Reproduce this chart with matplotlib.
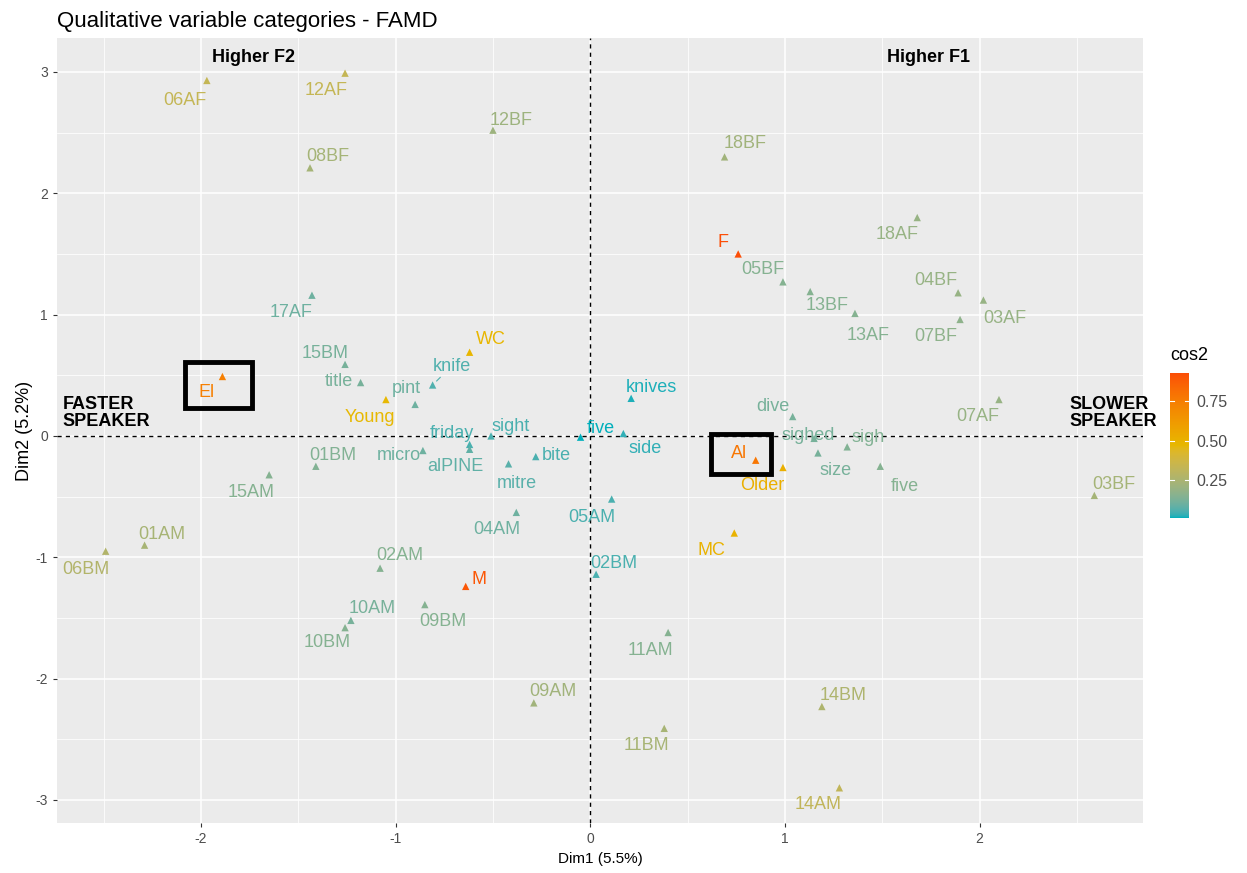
import numpy as np
import matplotlib
matplotlib.use("Agg")
import matplotlib.pyplot as plt
from matplotlib.colors import ListedColormap, Normalize, to_rgb
from matplotlib.patches import Rectangle

plt.rcParams['font.family'] = ['Liberation Sans', 'DejaVu Sans']
plt.rcParams['axes.unicode_minus'] = False

# category coordinates on Dim1 / Dim2 and their cos2
labels = ['06AF', '12AF', '12BF', '08BF', '18BF', '18AF', 'F', '05BF', '13BF', '13AF',
          '04BF', '03AF', '07BF', '17AF', '15BM', 'title', 'WC', 'knife', 'pint', 'Young',
          'El', 'knives', 'five', 'side', 'sight', 'friday', 'alPINE', 'micro', 'bite', 'mitre',
          '01BM', '15AM', '04AM', '05AM', '02BM', '02AM', 'M', '10AM', '10BM', '09BM',
          '01AM', '06BM', '11AM', '09AM', '11BM', '14BM', '14AM', 'MC', 'Al', 'Older',
          'dive', 'sighed', 'sigh', 'size', 'five', '07AF', '03BF']
dim1 = [-1.97, -1.26, -0.50, -1.44, 0.69, 1.68, 0.76, 0.99, 1.13, 1.36,
        1.89, 2.02, 1.90, -1.43, -1.26, -1.18, -0.62, -0.81, -0.90, -1.05,
        -1.89, 0.21, -0.05, 0.17, -0.51, -0.62, -0.62, -0.86, -0.28, -0.42,
        -1.41, -1.65, -0.38, 0.11, 0.03, -1.08, -0.64, -1.23, -1.26, -0.85,
        -2.29, -2.49, 0.40, -0.29, 0.38, 1.19, 1.28, 0.74, 0.85, 0.99,
        1.04, 1.15, 1.32, 1.17, 1.49, 2.10, 2.59]
dim2 = [2.93, 2.99, 2.52, 2.21, 2.30, 1.80, 1.50, 1.27, 1.19, 1.01,
        1.18, 1.12, 0.96, 1.16, 0.59, 0.44, 0.69, 0.42, 0.26, 0.30,
        0.49, 0.31, -0.01, 0.02, 0.00, -0.07, -0.11, -0.12, -0.17, -0.23,
        -0.25, -0.32, -0.63, -0.52, -1.14, -1.09, -1.24, -1.52, -1.58, -1.39,
        -0.90, -0.95, -1.62, -2.20, -2.41, -2.23, -2.90, -0.80, -0.20, -0.26,
        0.16, -0.02, -0.09, -0.14, -0.25, 0.30, -0.49]
cos2 = [0.33, 0.33, 0.21, 0.23, 0.22, 0.19, 0.93, 0.15, 0.15, 0.15,
        0.19, 0.19, 0.17, 0.10, 0.12, 0.12, 0.48, 0.06, 0.10, 0.47,
        0.74, 0.02, 0.01, 0.03, 0.05, 0.05, 0.08, 0.10, 0.05, 0.07,
        0.14, 0.15, 0.10, 0.05, 0.05, 0.15, 0.90, 0.12, 0.15, 0.15,
        0.24, 0.27, 0.15, 0.22, 0.24, 0.26, 0.32, 0.50, 0.78, 0.52,
        0.12, 0.12, 0.14, 0.12, 0.15, 0.19, 0.23]

# label offsets in pixels (repel-like placement)
offsets = [(-22, -20), (-19, -17), (18, 10), (18, 11), (21, 13), (-20, -17), (-15, 11), (-20, 12), (17, -14), (13, -22),
           (-22, 12), (21, -18), (-24, -17), (-21, -17), (-20, 11), (-22, 1), (21, 13), (19, 19), (-9, 16), (-16, -18),
           (-16, -16), (20, 11), (20, 9), (22, -15), (20, 9), (-18, 11), (-14, -17), (-24, -5), (21, 1), (8, -20),
           (17, 11), (-18, -18), (-19, -17), (-20, -18), (18, 11), (20, 13), (13, 7), (21, 12), (-18, -15), (18, -17),
           (17, 11), (-20, -18), (-18, -18), (19, 11), (-18, -17), (21, 11), (-21, -17), (-23, -17), (-17, 7), (-21, -18),
           (-20, 10), (-6, 3), (21, 9), (18, -18), (25, -20), (-21, -17), (19, 11)]


# gradient interpolated in Lab space, like ggplot's gradientn
def to_lab(rgb):
    c = np.asarray(rgb, float)
    c = np.where(c <= 0.04045, c / 12.92, ((c + 0.055) / 1.055) ** 2.4)
    m = np.array([[0.4124, 0.3576, 0.1805], [0.2126, 0.7152, 0.0722], [0.0193, 0.1192, 0.9505]])
    xyz = m @ c / np.array([0.95047, 1.0, 1.08883])
    f = np.where(xyz > 0.008856, np.cbrt(xyz), 7.787 * xyz + 16 / 116)
    return np.array([116 * f[1] - 16, 500 * (f[0] - f[1]), 200 * (f[1] - f[2])])


def from_lab(lab):
    fy = (lab[0] + 16) / 116
    f = np.array([fy + lab[1] / 500, fy, fy - lab[2] / 200])
    xyz = np.where(f ** 3 > 0.008856, f ** 3, (f - 16 / 116) / 7.787) * np.array([0.95047, 1.0, 1.08883])
    mi = np.array([[3.2406, -1.5372, -0.4986], [-0.9689, 1.8758, 0.0415], [0.0557, -0.2040, 1.0570]])
    c = mi @ xyz
    c = np.where(c <= 0.0031308, 12.92 * c, 1.055 * np.clip(c, 0, None) ** (1 / 2.4) - 0.055)
    return np.clip(c, 0, 1)


stops = [to_lab(to_rgb(h)) for h in ['#00AFBB', '#E7B800', '#FC4E07']]
cols = []
for t in np.linspace(0, 1, 256):
    i = 0 if t < 0.5 else 1
    u = (t - 0.5 * i) / 0.5
    cols.append(from_lab(stops[i] * (1 - u) + stops[i + 1] * u))
cmap = ListedColormap(cols)
norm = Normalize(vmin=min(cos2), vmax=max(cos2))
colors = cmap(norm(np.array(cos2)))

fig = plt.figure(figsize=(12.47, 8.73), dpi=100)
ax = fig.add_axes([57 / 1247, 50 / 873, 1086 / 1247, 785 / 873])
ax.set_facecolor('#EBEBEB')
ax.set_xlim(-2.74, 2.84)
ax.set_ylim(-3.19, 3.28)
ax.set_xticks([-2, -1, 0, 1, 2])
ax.set_yticks([-3, -2, -1, 0, 1, 2, 3])
ax.set_xticks(np.arange(-2.5, 3, 1), minor=True)
ax.set_yticks(np.arange(-2.5, 3.5, 1), minor=True)
ax.grid(which='major', color='white', lw=1.1)
ax.grid(which='minor', color='white', lw=0.55)
ax.set_axisbelow(True)
for s in ax.spines.values():
    s.set_visible(False)
ax.tick_params(which='major', colors='#333333', labelcolor='#4D4D4D', labelsize=10, length=3)
ax.tick_params(which='minor', length=0)

ax.axhline(0, color='black', ls=(0, (3, 3)), lw=1)
ax.axvline(0, color='black', ls=(0, (3, 3)), lw=1)

ax.scatter(dim1, dim2, marker='^', s=28, c=colors, zorder=3, linewidths=0)
for lab, x, y, off, col in zip(labels, dim1, dim2, offsets, colors):
    arrow = None
    if lab == 'knife':
        arrow = dict(arrowstyle='-', color=col, lw=0.8, shrinkA=0, shrinkB=4)
    ax.annotate(lab, (x, y), xytext=off, textcoords='offset pixels', ha='center', va='center',
                fontsize=13, color=col, zorder=4, arrowprops=arrow)

# highlight boxes
ax.add_patch(Rectangle((-2.08, 0.23), 0.34, 0.38, fill=False, ec='black', lw=3.5, zorder=5))
ax.add_patch(Rectangle((0.62, -0.31), 0.31, 0.33, fill=False, ec='black', lw=3.5, zorder=5))

ax.text(-1.73, 3.12, 'Higher F2', fontsize=13, fontweight='bold', ha='center', va='center')
ax.text(1.74, 3.12, 'Higher F1', fontsize=13, fontweight='bold', ha='center', va='center')
ax.text(-2.71, 0.19, 'FASTER\nSPEAKER', fontsize=13, fontweight='bold', ha='left', va='center', linespacing=1.05)
ax.text(2.46, 0.19, 'SLOWER\nSPEAKER', fontsize=13, fontweight='bold', ha='left', va='center', linespacing=1.05, clip_on=False)

ax.set_xlabel('Dim1 (5.5%)', fontsize=11, color='black', labelpad=4)
ax.set_ylabel('Dim2 (5.2%)', fontsize=13, color='black', labelpad=2)
fig.text(57 / 1247, 1 - 21 / 873, 'Qualitative variable categories - FAMD', fontsize=16, ha='left', va='center')

# colour bar
cax = fig.add_axes([1170 / 1247, (873 - 518) / 873, 19 / 1247, 145 / 873])
grad = np.linspace(norm.vmin, norm.vmax, 256).reshape(-1, 1)
cax.imshow(grad, aspect='auto', cmap=cmap, norm=norm, origin='lower',
           extent=[0, 1, norm.vmin, norm.vmax])
cax.set_xticks([])
cax.yaxis.tick_right()
cax.set_yticks([0.25, 0.5, 0.75])
cax.set_yticklabels(['0.25', '0.50', '0.75'])
cax.tick_params(axis='y', length=0, labelsize=11.5, labelcolor='#4D4D4D', pad=5)
for v in [0.25, 0.5, 0.75]:
    cax.plot([0, 0.2], [v, v], color='white', lw=0.8)
    cax.plot([0.8, 1], [v, v], color='white', lw=0.8)
cax.set_xlim(0, 1)
cax.set_ylim(norm.vmin, norm.vmax)
for s in cax.spines.values():
    s.set_visible(False)
fig.text(1170 / 1247, 1 - 355 / 873, 'cos2', fontsize=13, ha='left', va='center')

fig.savefig('out.png', dpi=100)
